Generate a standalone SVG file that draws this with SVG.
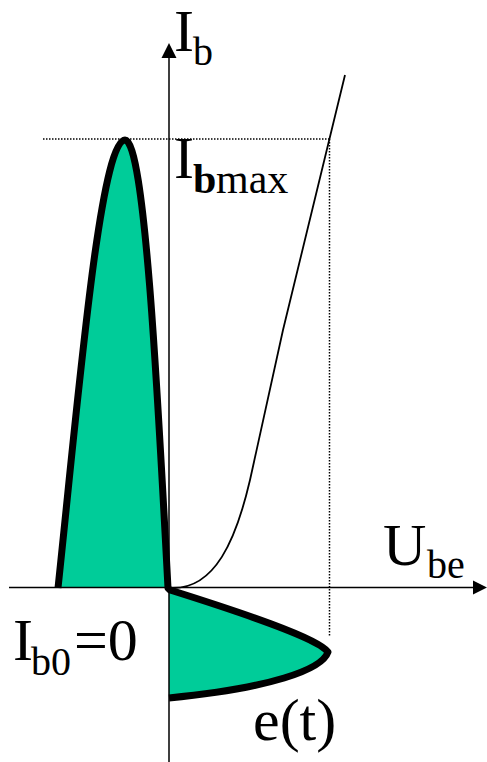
<svg xmlns="http://www.w3.org/2000/svg" width="487" height="762" viewBox="0 0 487 762">
<defs>
<path id="pulseShape" d="M58 588 C78 400 100 140 125 140 C145 140 158 400 168 588 Z M169 590 C240 612 318 638 328 652 C322 670 270 688 169 698 Z"/>
</defs>
<g id="guides" fill="none" stroke="#000" stroke-width="1.5" stroke-dasharray="1.5 1.5">
<path d="M43 139 H330"/>
<path d="M329.5 139 V636"/>
</g>
<g id="input-pulse">
<use href="#pulseShape" fill="#00CC99"/>
<path fill="none" stroke="#000" stroke-width="7" stroke-linejoin="round" d="M58 588 C78 400 100 140 125 140 C145 140 158 400 168 588 L170 590 C240 612 318 638 328 652 C322 670 270 688 169 698"/>
</g>
<g id="axes">
<path fill="none" stroke="#000" stroke-width="1.5" d="M169 762 V56 M9 587.5 H475"/>
<path d="M169 43 L161.5 58 L176.5 58 Z M487 587.5 L473 580.5 L473 594.5 Z" fill="#000"/>
</g>
<g id="characteristic">
<path fill="none" stroke="#000" stroke-width="1.8" d="M172 588 C215 589 236 540 250 480 L283 330 L345 75"/>
</g>
<g id="labels" fill="#000">
<text font-family="Liberation Serif" font-size="60" x="174" y="51">I</text>
<text font-family="Liberation Serif" font-size="40" x="193" y="65">b</text>
<text font-family="Liberation Serif" font-size="60" x="174" y="178">I</text>
<text font-family="Liberation Serif" font-size="42" font-weight="bold" x="193" y="193">b</text>
<text font-family="Liberation Serif" font-size="42" x="216" y="193">max</text>
<text font-family="Liberation Serif" font-size="60" x="383" y="565">U</text>
<text font-family="Liberation Serif" font-size="40" x="427" y="578">be</text>
<text font-family="Liberation Serif" font-size="60" x="13" y="660">I</text>
<text font-family="Liberation Serif" font-size="40" x="31" y="675">b0</text>
<text font-family="Liberation Serif" font-size="60" x="74" y="660">=0</text>
<text font-family="Liberation Serif" font-size="60" x="253" y="740">e(t)</text>
</g>
</svg>
